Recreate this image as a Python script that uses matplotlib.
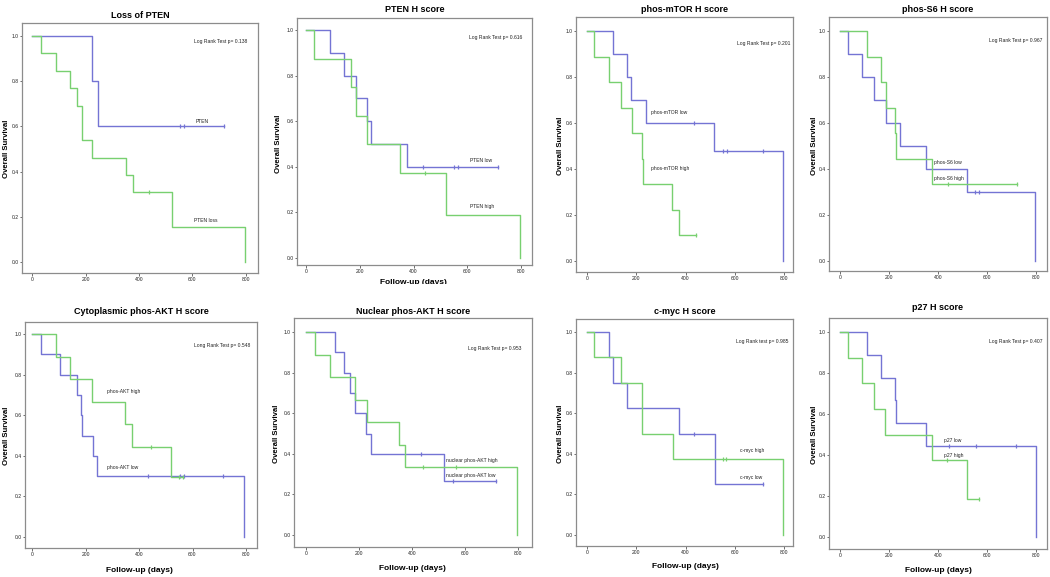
import matplotlib
matplotlib.use("Agg")
import matplotlib.pyplot as plt
import numpy as np
from matplotlib.transforms import Bbox

plt.rcParams["font.family"] = ["Liberation Sans Narrow", "Liberation Sans", "DejaVu Sans"]

BLUE = "#7474d4"
GREEN = "#78d070"
FRAME = "#8c8c8c"

# Kaplan-Meier curves: step times (days), survival after each step, censor times
# 1 Loss of PTEN
pten_t = [0, 226, 245, 716]
pten_s = [1.0, 0.8, 0.6, 0.6]
pten_c = [554, 569, 716]
ptenloss_t = [0, 32, 89, 141, 169, 186, 226, 351, 376, 522, 795]
ptenloss_s = [1.0, 0.923, 0.846, 0.769, 0.692, 0.538, 0.462, 0.385, 0.308, 0.154, 0.0]
ptenloss_c = [439]

# 2 PTEN H score
ptenlow_t = [0, 89, 141, 185, 226, 242, 375, 716]
ptenlow_s = [1.0, 0.9, 0.8, 0.7, 0.6, 0.5, 0.4, 0.4]
ptenlow_c = [434, 551, 564, 716]
ptenhigh_t = [0, 31, 167, 185, 226, 350, 520, 795]
ptenhigh_s = [1.0, 0.875, 0.75, 0.625, 0.5, 0.375, 0.1875, 0.0]
ptenhigh_c = [443]

# 3 phos-mTOR H score
mtorlow_t = [0, 106, 164, 180, 241, 517, 795]
mtorlow_s = [1.0, 0.9, 0.8, 0.7, 0.6, 0.48, 0.0]
mtorlow_c = [434, 551, 567, 716]
mtorhigh_t = [0, 27, 88, 140, 184, 224, 228, 347, 373, 441]
mtorhigh_s = [1.0, 0.889, 0.778, 0.667, 0.556, 0.444, 0.333, 0.222, 0.111, 0.111]
mtorhigh_c = [441]

# 4 phos-S6 H score
s6low_t = [0, 34, 89, 140, 187, 245, 350, 520, 795]
s6low_s = [1.0, 0.9, 0.8, 0.7, 0.6, 0.5, 0.4, 0.3, 0.0]
s6low_c = [552, 569]
s6high_t = [0, 109, 168, 188, 225, 229, 377, 722]
s6high_s = [1.0, 0.889, 0.778, 0.667, 0.556, 0.444, 0.333, 0.333]
s6high_c = [440, 722]

# 5 Cytoplasmic phos-AKT H score
caktlow_t = [0, 32, 106, 169, 185, 188, 229, 244, 794]
caktlow_s = [1.0, 0.9, 0.8, 0.7, 0.6, 0.5, 0.4, 0.3, 0.0]
caktlow_c = [435, 554, 570, 714]
cakthigh_t = [0, 89, 141, 226, 347, 372, 520, 566]
cakthigh_s = [1.0, 0.889, 0.778, 0.667, 0.556, 0.444, 0.296, 0.296]
cakthigh_c = [444, 550, 566]

# 6 Nuclear phos-AKT H score
naktlow_t = [0, 108, 143, 167, 186, 227, 244, 520, 716]
naktlow_s = [1.0, 0.9, 0.8, 0.7, 0.6, 0.5, 0.4, 0.267, 0.267]
naktlow_c = [434, 553, 716]
nakthigh_t = [0, 33, 89, 185, 229, 351, 374, 796]
nakthigh_s = [1.0, 0.889, 0.778, 0.667, 0.556, 0.444, 0.333, 0.0]
nakthigh_c = [443, 565]

# 7 c-myc H score
myclow_t = [0, 88, 106, 164, 373, 519, 716]
myclow_s = [1.0, 0.875, 0.75, 0.625, 0.5, 0.25, 0.25]
myclow_c = [435, 716]
mychigh_t = [0, 27, 140, 225, 350, 797]
mychigh_s = [1.0, 0.875, 0.75, 0.5, 0.375, 0.0]
mychigh_c = [551, 564]

# 8 p27 H score
p27low_t = [0, 109, 168, 225, 229, 351, 800]
p27low_s = [1.0, 0.889, 0.778, 0.667, 0.556, 0.444, 0.0]
p27low_c = [443, 554, 718]
p27high_t = [0, 31, 89, 140, 184, 375, 520, 569]
p27high_s = [1.0, 0.875, 0.75, 0.625, 0.5, 0.375, 0.1875, 0.1875]
p27high_c = [436, 569]

titles = ["Loss of PTEN", "PTEN H score", "phos-mTOR H score", "phos-S6 H score",
          "Cytoplasmic phos-AKT H score", "Nuclear phos-AKT H score", "c-myc H score", "p27 H score"]
pvals = ["Log Rank Test p= 0.138", "Log Rank Test p= 0.616", "Log Rank Test p= 0.201",
         "Log Rank Test p= 0.967", "Long Rank Test p= 0.548", "Log Rank Test p= 0.953",
         "Log Rank test p= 0.985", "Log Rank Test p= 0.407"]

panels = [
    [(pten_t, pten_s, pten_c, BLUE), (ptenloss_t, ptenloss_s, ptenloss_c, GREEN)],
    [(ptenlow_t, ptenlow_s, ptenlow_c, BLUE), (ptenhigh_t, ptenhigh_s, ptenhigh_c, GREEN)],
    [(mtorlow_t, mtorlow_s, mtorlow_c, BLUE), (mtorhigh_t, mtorhigh_s, mtorhigh_c, GREEN)],
    [(s6low_t, s6low_s, s6low_c, BLUE), (s6high_t, s6high_s, s6high_c, GREEN)],
    [(caktlow_t, caktlow_s, caktlow_c, BLUE), (cakthigh_t, cakthigh_s, cakthigh_c, GREEN)],
    [(naktlow_t, naktlow_s, naktlow_c, BLUE), (nakthigh_t, nakthigh_s, nakthigh_c, GREEN)],
    [(myclow_t, myclow_s, myclow_c, BLUE), (mychigh_t, mychigh_s, mychigh_c, GREEN)],
    [(p27low_t, p27low_s, p27low_c, BLUE), (p27high_t, p27high_s, p27high_c, GREEN)],
]

# curve labels: (text, x, y)
curve_labels = [
    [("PTEN", 610, 0.623), ("PTEN loss", 604, 0.185)],
    [("PTEN low", 610, 0.429), ("PTEN high", 610, 0.224)],
    [("phos-mTOR low", 258, 0.645), ("phos-mTOR high", 258, 0.402)],
    [("phos-S6 low", 384, 0.427), ("phos-S6 high", 384, 0.359)],
    [("phos-AKT high", 279, 0.716), ("phos-AKT low", 279, 0.343)],
    [("nuclear phos-AKT high", 530, 0.366), ("nuclear phos-AKT low", 530, 0.295)],
    [("c-myc high", 623, 0.418), ("c-myc low", 620, 0.282)],
    [("p27 low", 425, 0.470), ("p27 high", 425, 0.396)],
]
pval_pos = [(607, 0.975), (607, 0.966), (610, 0.945), (609, 0.957),
            (604, 0.941), (612, 0.918), (607, 0.951), (609, 0.955)]

# pixel layout of each panel: box (L, T, R, B), x pixel of 0 and 800, y pixel of 1.0 and 0.0
boxes = [
    (22, 23, 258, 273, 32, 246, 36, 262),
    (297, 18, 532, 265, 306, 521, 30, 258),
    (576, 17, 793, 272, 587, 784, 31, 261),
    (829, 17, 1047, 271, 840, 1036, 31, 261),
    (25, 322, 257, 548, 32, 246, 334, 537),
    (294, 318, 532, 547, 306, 518, 332, 535),
    (576, 319, 793, 546, 587, 784, 332, 535),
    (829, 318, 1047, 549, 840, 1036, 332, 537),
]
# pixel positions: y-label centre x, title centre y, x-label centre y
ylab_x = [7, 278, 561, 814, 7, 277, 561, 814]
title_y = [16, 9, 10, 9, 312, 311, 312, 308]
xlab_y = [None, None, None, None, 571, 568, 567, 570]

W, H = 1050, 577
fig = plt.figure(figsize=(W / 100, H / 100), dpi=100)


def surv_at(t, s, tc):
    idx = np.searchsorted(t, tc, side="right") - 1
    return np.asarray(s)[idx]


for i, (L, T, R, B, x0, x8, y1, y0) in enumerate(boxes):
    ax = fig.add_axes([L / W, 1 - B / H, (R - L) / W, (B - T) / H])
    sx = (x8 - x0) / 800
    sy = y0 - y1
    ax.set_xlim((L - x0) / sx, (R - x0) / sx)
    ax.set_ylim((y0 - B) / sy, (y0 - T) / sy)
    for t, s, c, col in panels[i]:
        ax.step(t, s, where="post", color=col, linewidth=1.0)
        ax.plot(c, surv_at(t, s, c), "|", color=col, markersize=2.5, markeredgewidth=0.9)
    for txt, lx, ly in curve_labels[i]:
        ax.text(lx, ly, txt, fontsize=3.6, va="center", ha="left", color="#222222")
    px, py = pval_pos[i]
    ax.text(px, py, pvals[i], fontsize=3.6, va="center", ha="left", color="#222222")
    ax.set_xticks([0, 200, 400, 600, 800])
    ax.set_yticks([0.0, 0.2, 0.4, 0.6, 0.8, 1.0])
    ax.set_yticklabels(["0.0", "0.2", "0.4", "0.6", "0.8", "1.0"])
    ax.tick_params(labelsize=3.6, length=1.8, width=0.6, color="#555555", pad=0.8, labelcolor="#222222")
    for sp in ax.spines.values():
        sp.set_color(FRAME)
        sp.set_linewidth(0.9)
    fig.text((L + R) / 2 / W, 1 - title_y[i] / H, titles[i], fontsize=6.5,
             fontweight="bold", ha="center", va="center")
    ax.set_ylabel("Overall Survival", fontsize=5.6, fontweight="bold")
    ax.yaxis.set_label_coords(ylab_x[i] / W, 1 - (y0 + y1) / 2 / H, transform=fig.transFigure)
    if xlab_y[i] is not None:
        ax.set_xlabel("Follow-up (days)", fontsize=6, fontweight="bold")
        ax.xaxis.set_label_coords((x0 + x8) / 2 / W, 1 - xlab_y[i] / H, transform=fig.transFigure)
        ax.xaxis.label.set_va("center")
    ax.yaxis.label.set_va("center")

# x label of the second top panel, partly covered by the lower row
lab = fig.text((306 + 521) / 2 / W, 1 - 282 / H, "Follow-up (days)", fontsize=6,
               fontweight="bold", ha="center", va="center")
lab.set_clip_box(Bbox([[0, (H - 284)], [W, H]]))

fig.savefig("out.png", dpi=100)
